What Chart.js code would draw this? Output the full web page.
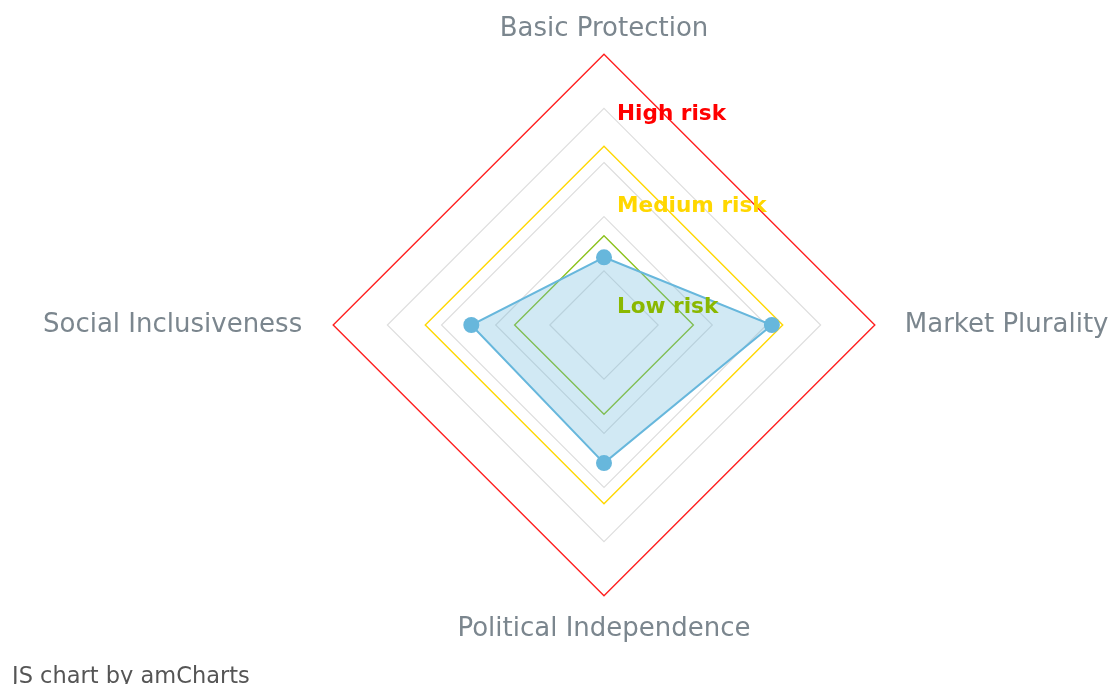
<!DOCTYPE html>
<html>
<head>
<meta charset="utf-8">
<script src="https://cdn.jsdelivr.net/npm/chart.js@4.4.1/dist/chart.umd.min.js"></script>
<style>
  html, body { margin:0; padding:0; background:#fff; overflow:hidden; width:1110px; height:684px; }
  #wrap { position:absolute; left:-40px; top:0; width:1288px; height:684px; }
  #credit { position:absolute; left:12px; top:664px; font:22.5px "DejaVu Sans", Verdana, sans-serif; line-height:22px; color:#555; white-space:nowrap; }
</style>
</head>
<body>
<div id="wrap"><canvas id="riskChart"></canvas></div>
<div id="credit">JS chart by amCharts</div>
<script>
// areas and scores
const categories = ['Basic Protection', 'Market Plurality', 'Political Independence', 'Social Inclusiveness'];
const riskScores = [25, 62, 51, 49];

// risk thresholds
const lowRiskLimit = [33, 33, 33, 33];
const mediumRiskLimit = [66, 66, 66, 66];
const highRiskLimit = [100, 100, 100, 100];
const bandNames = ['Low risk', 'Medium risk', 'High risk'];

// scale
const scaleMin = 0;
const scaleMax = 100;
const scaleStep = 20;

const bandColors = ['#8ab800', '#ffd700', '#ff0000'];
const lineColors = ['#8cc21c', '#ffd700', '#ff2020'];
const labelPad = [9.5, 30, 18, 31];

// band names written down the top axis
const bandLabels = {
  id: 'bandLabels',
  afterDatasetsDraw(chart){
    const s = chart.scales.r;
    const limits = [lowRiskLimit[0], mediumRiskLimit[0], highRiskLimit[0]];
    const dy = [71.5, 60.5, 60.5];
    const ctx = chart.ctx;
    ctx.save();
    ctx.font = 'bold 21.6px "DejaVu Sans", Verdana, sans-serif';
    ctx.textAlign = 'left';
    ctx.textBaseline = 'middle';
    bandNames.forEach((name, i)=>{
      const p = s.getPointPosition(0, s.getDistanceFromCenterForValue(limits[i]));
      ctx.fillStyle = bandColors[i];
      ctx.fillText(name, p.x + 13, p.y + dy[i]);
    });
    ctx.restore();
  }
};

function limitSet(data, color){
  return { data: data, borderColor: color, borderWidth: 1.4, fill: false, pointRadius: 0, pointHoverRadius: 0, tension: 0 };
}

new Chart(document.getElementById('riskChart'), {
  type: 'radar',
  data: {
    labels: categories,
    datasets: [
      {
        label: 'Risk',
        data: riskScores,
        borderColor: '#67b7dc',
        borderWidth: 2,
        backgroundColor: 'rgba(103,183,220,0.3)',
        fill: true,
        pointRadius: 8,
        pointBackgroundColor: '#67b7dc',
        pointBorderColor: '#67b7dc',
        pointBorderWidth: 0
      },
      limitSet(lowRiskLimit, lineColors[0]),
      limitSet(mediumRiskLimit, lineColors[1]),
      limitSet(highRiskLimit, lineColors[2])
    ]
  },
  options: {
    responsive: true,
    maintainAspectRatio: false,
    animation: false,
    events: [],
    layout: { padding: { top: 10, bottom: 34, left: 0, right: 0 } },
    plugins: { legend: { display: false }, tooltip: { enabled: false } },
    scales: {
      r: {
        min: scaleMin,
        max: scaleMax,
        ticks: { stepSize: scaleStep, display: false },
        angleLines: { display: false },
        grid: {
          color: c => c.tick && c.tick.value === scaleMax ? 'rgba(0,0,0,0)' : '#dedede',
          lineWidth: 1.2
        },
        pointLabels: {
          color: '#7b868e',
          font: { family: '"DejaVu Sans", Verdana, sans-serif', size: 26 },
          padding: c => labelPad[c.index]
        }
      }
    }
  },
  plugins: [bandLabels]
});
</script>
</body>
</html>
